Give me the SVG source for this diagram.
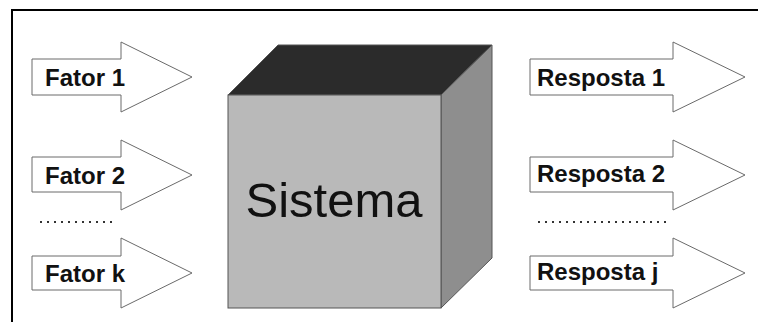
<svg xmlns="http://www.w3.org/2000/svg" width="758" height="322" viewBox="0 0 758 322">
  <defs>
    <style>
      .arrow { fill: #ffffff; stroke: #6a6a6a; stroke-width: 1; }
      .label { font-family: "Liberation Sans", Arial, sans-serif; font-weight: bold; font-size: 24px; fill: #111111; }
      .dots { stroke: #333333; stroke-width: 2; stroke-dasharray: 2 5; }
      .edge { stroke: #000000; stroke-width: 2; fill: none; }
      .cube { stroke: #555555; stroke-width: 1; }
    </style>
  </defs>

  <rect width="758" height="322" fill="#ffffff"/>

  <!-- frame: top and left edges only -->
  <g id="frame">
    <path class="edge" d="M12 322 V10 H758"/>
  </g>

  <!-- input arrows -->
  <g id="fator1">
    <polygon class="arrow" points="32,59 121,59 121,42 192,77 121,112 121,95 32,95"/>
    <text class="label" x="45" y="86">Fator 1</text>
  </g>
  <g id="fator2">
    <polygon class="arrow" points="32,157 121,157 121,140 192,175 121,210 121,192 32,192"/>
    <text class="label" x="45" y="184">Fator 2</text>
  </g>
  <g id="fatork">
    <polygon class="arrow" points="32,256 121,256 121,238 192,273 121,308 121,290 32,290"/>
    <text class="label" x="45" y="282">Fator k</text>
  </g>

  <!-- system block -->
  <g id="sistema">
    <polygon class="cube" fill="#2b2b2b" points="228,95 278,45 492,45 441,95"/>
    <polygon class="cube" fill="#8e8e8e" points="441,95 492,45 492,258 441,308"/>
    <rect class="cube" fill="#b9b9b9" x="228" y="95" width="213" height="213"/>
    <text x="334" y="217" text-anchor="middle" font-family="'Liberation Sans', Arial, sans-serif" font-size="49" fill="#111111">Sistema</text>
  </g>

  <!-- output arrows -->
  <g id="resposta1">
    <polygon class="arrow" points="530,59 673,59 673,42 745,77 673,112 673,95 530,95"/>
    <text class="label" x="537" y="86">Resposta 1</text>
  </g>
  <g id="resposta2">
    <polygon class="arrow" points="530,157 673,157 673,140 745,175 673,210 673,192 530,192"/>
    <text class="label" x="537" y="182">Resposta 2</text>
  </g>
  <g id="respostaj">
    <polygon class="arrow" points="530,256 673,256 673,238 745,273 673,308 673,290 530,290"/>
    <text class="label" x="537" y="280">Resposta j</text>
  </g>

  <!-- ellipsis rows between arrows -->
  <g id="connectors">
    <line class="dots" x1="40" y1="222" x2="112" y2="222"/>
    <line class="dots" x1="538" y1="222" x2="666" y2="222"/>
  </g>
</svg>
